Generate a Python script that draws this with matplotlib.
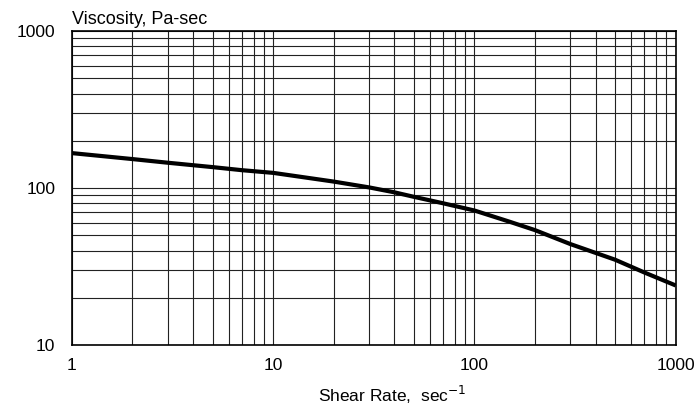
#! /usr/bin/env python3

import numpy as np
import matplotlib
matplotlib.use("Agg")
import matplotlib.pyplot as plt
from matplotlib.ticker import LogLocator, FixedLocator, NullFormatter


# Viscosity vs shear rate.
shear_rate = [1, 2, 3, 5, 7, 10, 15, 20, 30, 40, 50, 70, 100, 150, 200, 300, 500, 700, 1000]
viscosity = [167, 153, 145, 136, 130, 125, 116, 110, 101, 94, 88, 80, 72, 61, 54, 44, 35, 29, 24]

x_ticks = [1, 10, 100, 1000]
y_ticks = [10, 100, 1000]

plt.rcParams['font.family'] = ['Liberation Sans', 'DejaVu Sans']

fig = plt.figure(figsize=(6.98, 4.08), dpi=100)
ax = fig.add_axes([0.103, 0.154, 0.865, 0.770])

ax.plot(shear_rate, viscosity, color='black', linewidth=3, solid_capstyle='butt')

ax.set_xscale('log')
ax.set_yscale('log')
ax.set_xlim(1, 1000)
ax.set_ylim(10, 1000)

ax.xaxis.set_major_locator(FixedLocator(x_ticks))
ax.yaxis.set_major_locator(FixedLocator(y_ticks))
ax.set_xticklabels([str(t) for t in x_ticks])
ax.set_yticklabels([str(t) for t in y_ticks])
ax.xaxis.set_minor_locator(LogLocator(base=10, subs=np.arange(2, 10)))
ax.yaxis.set_minor_locator(LogLocator(base=10, subs=np.arange(2, 10)))
ax.xaxis.set_minor_formatter(NullFormatter())
ax.yaxis.set_minor_formatter(NullFormatter())

ax.grid(which='both', color='#222222', linewidth=0.8)
ax.tick_params(which='both', length=0, labelsize=12.5)
ax.tick_params(axis='x', pad=9)
ax.tick_params(axis='y', pad=12)
for s in ax.spines.values():
    s.set_linewidth(1.2)

ax.set_xlabel("Shear Rate,  sec$^{-1}$", fontsize=12.5, labelpad=8, x=0.53)
ax.text(0.0, 1.01, "Viscosity, Pa-sec", transform=ax.transAxes,
        fontsize=13, ha='left', va='bottom')

fig.savefig("out.png", dpi=100)
